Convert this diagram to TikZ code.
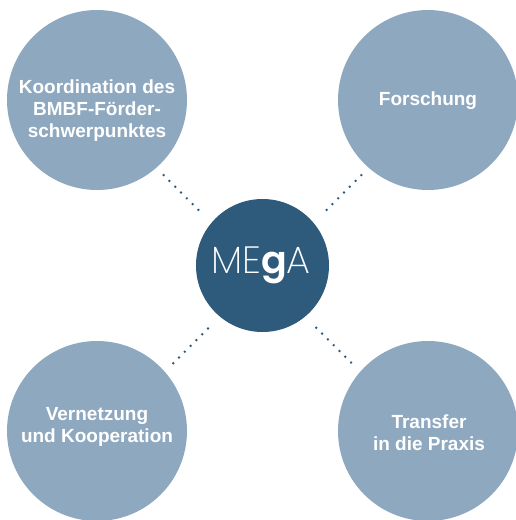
\documentclass[tikz,border=0pt]{standalone}
\usepackage{fontspec}
\setmainfont{Liberation Sans}
\newfontfamily\megalight{Poppins ExtraLight}
\newfontfamily\megabold{Poppins SemiBold}
\definecolor{lightblue}{HTML}{8EA8BF}
\definecolor{darkblue}{HTML}{2E5A7C}
\begin{document}
\begin{tikzpicture}[x=1pt,y=-1pt,
  outer/.style={circle,fill=lightblue,minimum size=180pt,inner sep=0pt},
  inner/.style={circle,fill=darkblue,minimum size=133pt,inner sep=0pt},
  lbl/.style={text=white,align=center,inner sep=0pt,font=\bfseries\fontsize{19}{22}\selectfont},
  dotline/.style={darkblue,line width=2.7pt,line cap=round,dash pattern=on 0pt off 8.2pt}]
\useasboundingbox (0,0) rectangle (516,520);
\node[outer] (c1) at (97,100) {};
\node[outer] (c2) at (428,100) {};
\node[outer] (c3) at (97,431) {};
\node[outer] (c4) at (428,431) {};
\node[inner] (m) at (262.5,265.5) {};
\node[lbl] (t1) at (97,110.5) {Koordination des\\BMBF-Förder-\\schwerpunktes};
\node[lbl] (t2) at (428,101) {Forschung};
\node[lbl] (t3) at (97,426.5) {Vernetzung\\und Kooperation};
\node[lbl] (t4) at (429,433) {Transfer\\in die Praxis};
\node[text=white,inner sep=0pt,font=\fontsize{38}{38}\selectfont] (mt) at (261,265) {\megalight ME{\megabold g}A};
\draw[dotline,transform canvas={yshift=-8.5pt},shorten <=4pt,shorten >=16.6pt] (c1) -- (m);
\draw[dotline,transform canvas={yshift=-8.5pt},shorten <=4pt,shorten >=17pt] (c2) -- (m);
\draw[dotline,transform canvas={yshift=-8.5pt},shorten <=17.6pt,shorten >=8.8pt] (c3) -- (m);
\draw[dotline,transform canvas={yshift=-8.5pt},shorten <=18.6pt,shorten >=9pt] (c4) -- (m);
\end{tikzpicture}
\end{document}
